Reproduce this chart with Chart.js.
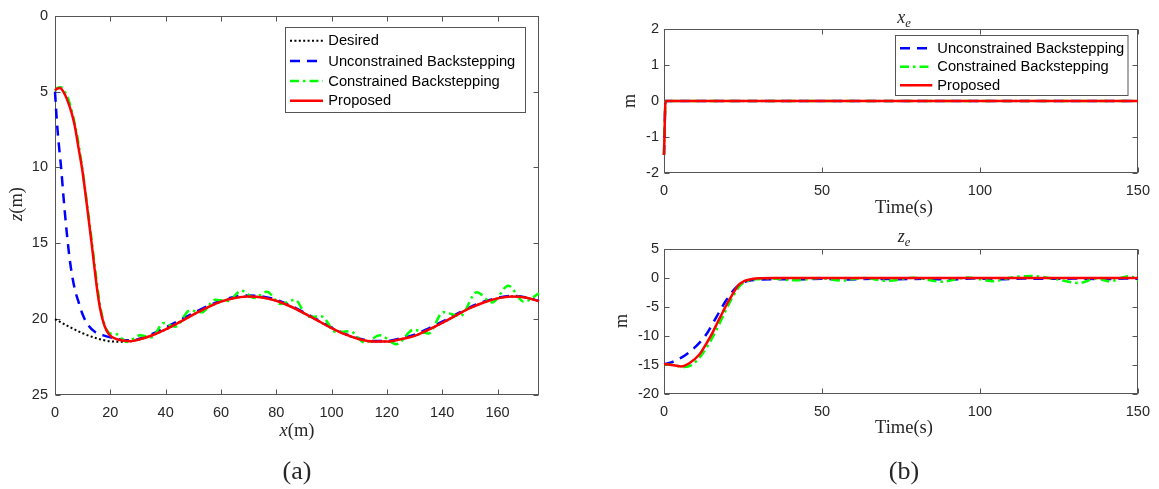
<!DOCTYPE html>
<html>
<head>
<meta charset="utf-8">
<script src="https://cdn.jsdelivr.net/npm/chart.js@4.4.1/dist/chart.umd.min.js"></script>
<style>
  body { margin: 0; background: #fff; }
  #wrap { position: relative; width: 1159px; height: 489px; }
  canvas { position: absolute; }
</style>
</head>
<body>
<div id="wrap">
  <canvas id="trackChart" width="580" height="489" style="left:0;top:0;width:580px;height:489px"></canvas>
  <canvas id="xeChart" width="579" height="230" style="left:580px;top:0;width:579px;height:230px"></canvas>
  <canvas id="zeChart" width="579" height="259" style="left:580px;top:230px;width:579px;height:259px"></canvas>
</div>
<script>
// ---- (a) trajectory in x-z plane ----
const desX = [0, 5, 10, 15, 20, 25, 30, 35, 40, 45, 50, 55, 60, 65, 70, 75, 80, 85, 90, 95, 100, 105, 110, 115, 120, 125, 130, 135, 140, 145, 150, 155, 160, 165, 170, 175];
const desZ = [20.0, 20.49, 20.93, 21.26, 21.46, 21.49, 21.36, 21.08, 20.68, 20.2, 19.7, 19.24, 18.85, 18.6, 18.5, 18.57, 18.79, 19.15, 19.6, 20.1, 20.59, 21.01, 21.32, 21.48, 21.48, 21.32, 21.1, 20.7, 20.25, 19.75, 19.28, 18.9, 18.63, 18.5, 18.57, 18.82];

const ubX = [0, 0.4, 0.9, 1.5, 2.2, 3.1, 4.2, 5.5, 7, 8.4, 10, 12, 14.5, 17.5, 20, 24, 28, 32, 36, 40, 45, 50, 55, 60, 65, 70, 75, 80, 85, 90, 95, 100, 105, 110, 115, 120, 125, 130, 135, 140, 145, 150, 155, 160, 165, 170, 175];
const ubZ = [5.0, 6.2, 7.5, 8.7, 10.0, 12.0, 14.2, 16.3, 17.9, 18.8, 19.7, 20.4, 20.85, 21.07, 21.2, 21.35, 21.4, 21.2, 20.9, 20.55, 20.08, 19.6, 19.15, 18.78, 18.52, 18.44, 18.5, 18.72, 19.08, 19.55, 20.05, 20.55, 20.97, 21.28, 21.44, 21.44, 21.26, 21.02, 20.62, 20.17, 19.68, 19.22, 18.85, 18.6, 18.47, 18.55, 18.8];

const cbX = [0, 1, 2.2, 3.5, 5, 6.5, 8, 9.5, 11, 12.5, 13.8, 15, 16.3, 17.8, 19.5, 22.3, 26, 30.7, 35, 39.2, 43.5, 48.8, 53, 57.9, 62.5, 67.5, 72, 76.6, 81.5, 86.8, 91.5, 96.4, 101.5, 106.7, 112, 117.5, 123.5, 129.6, 135, 140.4, 146.5, 152.5, 158, 163.9, 169.5, 175];
const cbZ = [4.95, 4.75, 4.72, 5.0, 5.6, 6.6, 7.9, 9.6, 11.6, 13.7, 15.6, 17.4, 19.1, 20.3, 20.9, 21.0, 21.5, 21.07, 21.2, 20.26, 20.5, 19.43, 19.55, 18.73, 18.8, 18.12, 18.6, 18.19, 19.0, 18.73, 19.85, 19.82, 20.85, 20.8, 21.55, 21.07, 21.65, 20.7, 20.95, 19.54, 19.8, 18.23, 18.9, 17.8, 18.85, 18.3];

const prX = [0, 0.8, 1.8, 3, 4.2, 6, 7.2, 8.3, 9.9, 11.2, 12.3, 13.3, 14.2, 15.2, 16.3, 17.8, 19.5, 22, 25, 27.5, 30, 35, 40, 45, 50, 55, 60, 65, 70, 75, 80, 85, 90, 95, 100, 105, 110, 115, 120, 125, 130, 135, 140, 145, 150, 155, 160, 165, 170, 175];
const prZ = [4.92, 4.8, 4.77, 5.0, 5.45, 6.4, 7.3, 8.5, 10.2, 12.0, 13.6, 15.1, 16.5, 18.0, 19.3, 20.4, 21.0, 21.3, 21.42, 21.45, 21.36, 21.08, 20.68, 20.2, 19.7, 19.24, 18.85, 18.6, 18.5, 18.57, 18.79, 19.15, 19.6, 20.1, 20.59, 21.01, 21.32, 21.48, 21.48, 21.32, 21.1, 20.7, 20.25, 19.75, 19.28, 18.9, 18.63, 18.5, 18.57, 18.82];

// ---- (b) x_e error ----
const xeTime = [0, 0.5, 150];
const xeUb = [-1.5, 0, 0];
const xeCb = [-1.5, 0, 0];
const xePr = [-1.5, 0, 0];

// ---- (b) z_e error ----
const zeUbTime = [0, 2.3, 5.9, 10.1, 13.3, 16.4, 19.5, 22.7, 25.8, 29.9, 35, 42, 50, 58, 66, 74, 82, 90, 98, 106, 114, 122, 130, 138, 146, 150];
const zeUb = [-14.85, -14.55, -13.6, -11.8, -9.8, -6.9, -4.0, -1.7, -0.6, -0.3, -0.2, -0.25, -0.15, -0.25, -0.15, -0.2, -0.15, -0.25, -0.1, -0.2, -0.1, -0.15, -0.1, -0.2, -0.1, -0.15];
const zeCbTime = [0, 3, 6.5, 9, 12, 16, 19, 22, 24.3, 27.5, 30, 33, 41.8, 49, 55.7, 63, 70.7, 79, 88, 96, 104.2, 110, 116.3, 123, 131.3, 137, 141.1, 145, 147.5, 150];
const zeCb = [-14.85, -15.0, -15.35, -14.9, -13.2, -9.6, -6.2, -3.0, -1.2, -0.35, -0.2, -0.05, -0.4, 0.0, -0.45, 0.0, -0.5, 0.05, -0.65, 0.1, -0.55, 0.1, 0.35, -0.1, -0.85, -0.1, -0.6, 0.1, 0.3, -0.5];
const zePrTime = [0, 2, 3.9, 5.4, 8, 11.2, 13.3, 15.3, 17, 18.5, 20, 21.6, 23.7, 25.2, 26.8, 29.9, 35, 150];
const zePr = [-14.85, -14.95, -15.14, -15.26, -14.7, -13.2, -11.4, -9.5, -7.6, -6.0, -4.4, -2.9, -1.15, -0.6, -0.3, -0.05, 0, 0];

// line styles (matlab-ish)
const styles = {
  des: { color: "#000000", width: 2, dash: [2, 2.4] },
  ub: { color: "#0000ff", width: 2.5, dash: [10, 7] },
  cb: { color: "#00ff00", width: 2.5, dash: [9, 4, 2.5, 4] },
  pr: { color: "#ff0000", width: 2.5, dash: [] },
};
const tickFont = { family: '"Liberation Sans", Arial, sans-serif', size: 14.5 };
const serif = '"Liberation Serif", "Times New Roman", serif';

const makeSet = (label, xs, ys, st, order) => ({
  label,
  data: xs.map((x, i) => ({ x, y: ys[i] })),
  borderColor: st.color,
  borderWidth: st.width,
  borderDash: st.dash,
  pointRadius: 0,
  fill: false,
  cubicInterpolationMode: "monotone",
  clip: 3,
  order,
});

// box + inward ticks on all four sides, drawn under the data like matlab
const framePlugin = {
  id: "frame",
  beforeDatasetsDraw(chart) {
    const { ctx, chartArea: a, scales } = chart;
    const L = Math.round(a.left) + 0.5, R = Math.round(a.right) - 0.5;
    const T = Math.round(a.top) + 0.5, B = Math.round(a.bottom) - 0.5;
    ctx.save();
    ctx.strokeStyle = "#555555";
    ctx.lineWidth = 1;
    ctx.setLineDash([]);
    ctx.strokeRect(L, T, R - L, B - T);
    ctx.beginPath();
    scales.x.ticks.forEach((t) => {
      const px = Math.round(scales.x.getPixelForValue(t.value)) + 0.5;
      ctx.moveTo(px, B); ctx.lineTo(px, B - 5);
      ctx.moveTo(px, T); ctx.lineTo(px, T + 5);
    });
    scales.y.ticks.forEach((t) => {
      const py = Math.round(scales.y.getPixelForValue(t.value)) + 0.5;
      ctx.moveTo(L, py); ctx.lineTo(L + 5, py);
      ctx.moveTo(R, py); ctx.lineTo(R - 5, py);
    });
    ctx.stroke();
    ctx.restore();
  },
};

// mixed italic / upright text (latex-like labels)
const drawRich = (ctx, item) => {
  ctx.save();
  ctx.translate(item.x, item.y);
  if (item.rotate) ctx.rotate(-Math.PI / 2);
  const fontOf = (p) => `${p.italic ? "italic " : ""}${p.sub ? item.size * 0.7 : item.size}px ${serif}`;
  let total = 0;
  item.parts.forEach((p) => {
    ctx.font = fontOf(p);
    p.w = ctx.measureText(p.t).width;
    total += p.w;
  });
  let cx = -total / 2;
  ctx.fillStyle = "#262626";
  ctx.textAlign = "left";
  ctx.textBaseline = "alphabetic";
  item.parts.forEach((p) => {
    ctx.font = fontOf(p);
    ctx.fillText(p.t, cx, p.sub ? item.size * 0.2 : 0);
    cx += p.w;
  });
  ctx.restore();
};

const decoPlugin = (texts, legend) => ({
  id: "deco",
  afterDraw(chart) {
    const ctx = chart.ctx;
    texts.forEach((t) => drawRich(ctx, t));
    if (!legend) return;
    ctx.save();
    ctx.fillStyle = "#ffffff";
    ctx.fillRect(legend.x, legend.y, legend.w, legend.h);
    ctx.strokeStyle = "#555555";
    ctx.lineWidth = 1;
    ctx.strokeRect(legend.x, legend.y, legend.w, legend.h);
    legend.items.forEach((it, i) => {
      const y = legend.rows[i];
      ctx.beginPath();
      ctx.strokeStyle = it.st.color;
      ctx.lineWidth = it.st.width;
      ctx.setLineDash(it.st.dash);
      ctx.moveTo(legend.s1, y);
      ctx.lineTo(legend.s2, y);
      ctx.stroke();
      ctx.setLineDash([]);
      ctx.fillStyle = "#000000";
      ctx.font = '14.7px "Liberation Sans", Arial, sans-serif';
      ctx.textBaseline = "middle";
      ctx.textAlign = "left";
      ctx.fillText(it.label, legend.tx, y + 0.5);
    });
    ctx.restore();
  },
});

const axis = (min, max, step, size, pad, extra) => ({
  type: "linear",
  min, max,
  afterFit: (s) => { if (s.isHorizontal()) s.height = size; else s.width = size; },
  grid: { display: false, drawTicks: false, tickLength: 0 },
  border: { display: false },
  ticks: { stepSize: step, includeBounds: false, autoSkip: false, maxRotation: 0, padding: pad, color: "#262626", font: tickFont },
  ...extra,
});

const baseOptions = (padding, scales) => ({
  responsive: false,
  animation: false,
  layout: { padding },
  plugins: { legend: { display: false }, tooltip: { enabled: false } },
  scales,
});

// (a)
new Chart(document.getElementById("trackChart"), {
  type: "line",
  data: {
    datasets: [
      makeSet("Desired", desX, desZ, styles.des, 3),
      makeSet("Unconstrained Backstepping", ubX, ubZ, styles.ub, 2),
      makeSet("Constrained Backstepping", cbX, cbZ, styles.cb, 1),
      makeSet("Proposed", prX, prZ, styles.pr, 0),
    ],
  },
  options: baseOptions({ left: 0, right: 41, top: 13, bottom: 0 }, {
    x: axis(0, 175, 20, 94, 9, {}),
    y: axis(0, 25, 5, 55, 7, { reverse: true }),
  }),
  plugins: [framePlugin, decoPlugin([
    { x: 297, y: 436, size: 18.5, parts: [{ t: "x", italic: true }, { t: "(m)" }] },
    { x: 297, y: 479, size: 26, parts: [{ t: "(a)" }] },
    { x: 22, y: 204, size: 18.5, rotate: true, parts: [{ t: "z", italic: true }, { t: "(m)" }] },
  ], {
    x: 285.5, y: 27.5, w: 240, h: 85,
    rows: [40.7, 61, 81, 100.7], s1: 290, s2: 323, tx: 328.3,
    items: [
      { label: "Desired", st: styles.des },
      { label: "Unconstrained Backstepping", st: styles.ub },
      { label: "Constrained Backstepping", st: styles.cb },
      { label: "Proposed", st: styles.pr },
    ],
  })],
});

// (b) top: x_e
new Chart(document.getElementById("xeChart"), {
  type: "line",
  data: {
    datasets: [
      makeSet("Unconstrained Backstepping", xeTime, xeUb, styles.ub, 2),
      makeSet("Constrained Backstepping", xeTime, xeCb, styles.cb, 1),
      makeSet("Proposed", xeTime, xePr, styles.pr, 0),
    ],
  },
  options: baseOptions({ left: 0, right: 15, top: 29, bottom: 0 }, {
    x: axis(0, 150, 50, 57, 9, {}),
    y: axis(-2, 2, 1, 84, 5, {}),
  }),
  plugins: [framePlugin, decoPlugin([
    { x: 324, y: 23, size: 18, parts: [{ t: "x", italic: true }, { t: "e", italic: true, sub: true }] },
    { x: 324, y: 213, size: 18.5, parts: [{ t: "Time(s)" }] },
    { x: 55, y: 101, size: 18, rotate: true, parts: [{ t: "m" }] },
  ], {
    x: 315.5, y: 35.5, w: 232.5, h: 60,
    rows: [48.3, 66.7, 85.3], s1: 320, s2: 352.3, tx: 357.3,
    items: [
      { label: "Unconstrained Backstepping", st: styles.ub },
      { label: "Constrained Backstepping", st: styles.cb },
      { label: "Proposed", st: styles.pr },
    ],
  })],
});

// (b) bottom: z_e
new Chart(document.getElementById("zeChart"), {
  type: "line",
  data: {
    datasets: [
      makeSet("Unconstrained Backstepping", zeUbTime, zeUb, styles.ub, 2),
      makeSet("Constrained Backstepping", zeCbTime, zeCb, styles.cb, 1),
      makeSet("Proposed", zePrTime, zePr, styles.pr, 0),
    ],
  },
  options: baseOptions({ left: 0, right: 15, top: 19, bottom: 0 }, {
    x: axis(0, 150, 50, 95, 9, {}),
    y: axis(-20, 5, 5, 84, 5, {}),
  }),
  plugins: [framePlugin, decoPlugin([
    { x: 324, y: 12, size: 18, parts: [{ t: "z", italic: true }, { t: "e", italic: true, sub: true }] },
    { x: 324, y: 203, size: 18.5, parts: [{ t: "Time(s)" }] },
    { x: 47, y: 91, size: 18, rotate: true, parts: [{ t: "m" }] },
    { x: 324, y: 249, size: 26, parts: [{ t: "(b)" }] },
  ], null)],
});
</script>
</body>
</html>
